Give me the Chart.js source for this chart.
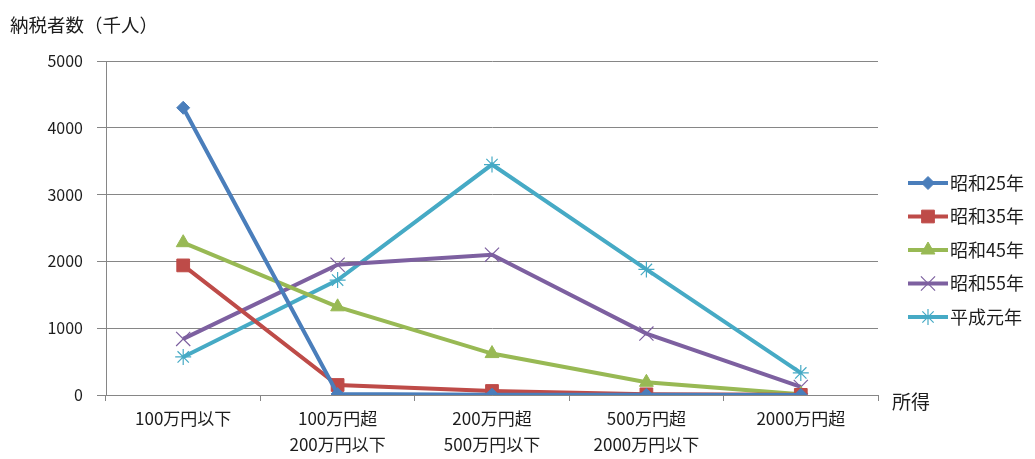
<!DOCTYPE html>
<html>
<head>
<meta charset="utf-8">
<script src="https://cdn.jsdelivr.net/npm/chart.js@4/dist/chart.umd.min.js"></script>
<style>
  html, body { margin: 0; padding: 0; background: #fff; }
  #wrap { width: 1035px; height: 459px; position: relative; }
</style>
</head>
<body>
<div id="wrap"><canvas id="c" width="1035" height="459"></canvas></div>
<script>
// Income brackets (x categories)
const categories = [
  ['100万円以下'],
  ['100万円超', '200万円以下'],
  ['200万円超', '500万円以下'],
  ['500万円超', '2000万円以下'],
  ['2000万円超']
];

// Number of taxpayers (thousands) per bracket
const seriesNames = ['昭和25年', '昭和35年', '昭和45年', '昭和55年', '平成元年'];
const showa25 = [4300, 15, 5, 2, 0];
const showa35 = [1940, 150, 60, 10, 2];
const showa45 = [2280, 1320, 620, 190, 10];
const showa55 = [840, 1950, 2100, 920, 120];
const heisei1 = [570, 1720, 3450, 1880, 330];

const yTicks = [0, 1000, 2000, 3000, 4000, 5000];
const yTitle = '納税者数（千人）';
const xTitle = '所得';

const FONT = '"Noto Sans CJK JP", "Noto Sans", sans-serif';
const TEXT = '#1c1c1c';

const styles = [
  { color: '#4A7EBB', point: 'rectRot', r: 6.5, bw: 1 },
  { color: '#BE4B48', point: 'rect', r: 9, bw: 1 },
  { color: '#98B954', point: 'triangle', r: 8, bw: 1 },
  { color: '#7D60A0', point: 'crossRot', r: 10, bw: 1.2 },
  { color: '#46AAC5', point: 'star', r: 8, bw: 1.2 }
];
const values = [showa25, showa35, showa45, showa55, heisei1];

const datasets = values.map((v, i) => ({
  label: seriesNames[i],
  data: v,
  borderColor: styles[i].color,
  backgroundColor: styles[i].color,
  borderWidth: 4,
  pointStyle: styles[i].point,
  pointRadius: styles[i].r,
  pointBorderWidth: styles[i].bw,
  pointBorderColor: styles[i].color,
  pointBackgroundColor: styles[i].color,
  tension: 0
}));

// Axis titles and a line-with-marker legend drawn on the canvas
const decorations = {
  id: 'decorations',
  afterDraw(chart) {
    const ctx = chart.ctx;
    ctx.save();
    ctx.fillStyle = TEXT;
    ctx.textBaseline = 'middle';
    ctx.textAlign = 'left';
    ctx.font = '18.5px ' + FONT;
    ctx.fillText(yTitle, 10, 25);
    ctx.font = '19px ' + FONT;
    ctx.fillText(xTitle, 892, 402);

    const lx = 908, lw = 40, ly0 = 183, gap = 33.5;
    chart.data.datasets.forEach((ds, i) => {
      const y = ly0 + i * gap;
      ctx.strokeStyle = ds.borderColor;
      ctx.lineWidth = 4;
      ctx.beginPath();
      ctx.moveTo(lx, y);
      ctx.lineTo(lx + lw, y);
      ctx.stroke();
      ctx.fillStyle = ds.borderColor;
      ctx.strokeStyle = ds.borderColor;
      ctx.lineWidth = ds.pointBorderWidth;
      Chart.helpers.drawPoint(ctx, {
        pointStyle: ds.pointStyle,
        radius: ds.pointRadius,
        borderWidth: ds.pointBorderWidth,
        rotation: 0
      }, lx + lw / 2, y);
      ctx.fillStyle = TEXT;
      ctx.font = '18px ' + FONT;
      ctx.fillText(ds.label, lx + lw + 2, y);
    });
    ctx.restore();
  }
};

new Chart(document.getElementById('c'), {
  type: 'line',
  data: { labels: categories, datasets },
  options: {
    responsive: false,
    animation: false,
    devicePixelRatio: 1,
    layout: { padding: { left: 0, right: 157, top: 61, bottom: 0 } },
    plugins: { legend: { display: false }, tooltip: { enabled: false } },
    scales: {
      x: {
        offset: true,
        grid: {
          offset: true,
          drawOnChartArea: false,
          drawTicks: true,
          tickLength: 6,
          color: '#868686'
        },
        border: { color: '#868686', width: 1 },
        ticks: {
          color: TEXT,
          font: { family: FONT, size: 17, lineHeight: 1.5 },
          maxRotation: 0,
          autoSkip: false,
          padding: 5
        },
        afterFit(scale) { scale.height = 64; }
      },
      y: {
        min: 0,
        max: 5000,
        afterBuildTicks(scale) { scale.ticks = yTicks.map(v => ({ value: v })); },
        grid: { color: '#868686', lineWidth: 1, drawTicks: true, tickLength: 9 },
        border: { color: '#868686', width: 1 },
        ticks: {
          color: TEXT,
          font: { family: FONT, size: 16 },
          padding: 14,
          callback: (v) => String(v)
        },
        afterFit(scale) { scale.width = 106; }
      }
    }
  },
  plugins: [decorations]
});
</script>
</body>
</html>
